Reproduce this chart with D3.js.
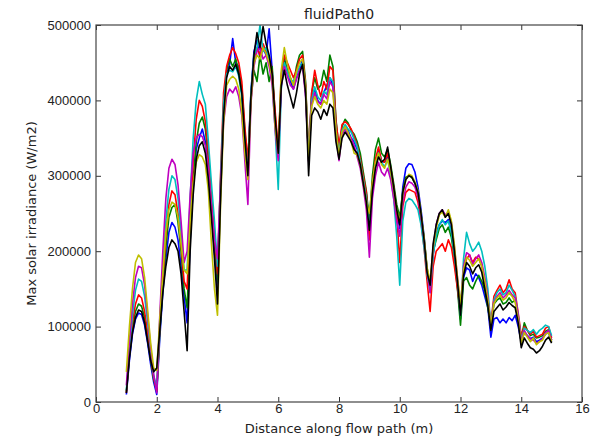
<!DOCTYPE html>
<html>
<head>
<meta charset="utf-8">
<script src="https://cdn.jsdelivr.net/npm/d3@7"></script>
<style>
  body { margin: 0; background: #fff; }
  svg { font-family: "DejaVu Sans", sans-serif; }
</style>
</head>
<body>
<svg width="598" height="439"></svg>
<script>
// x positions (m), 0.1 m step from 1 to 15
var xs = d3.range(141).map(function(i) { return +(1 + i / 10).toFixed(1); });

// series values in kW/m2, one row per metre
var blue = [
  10, 55, 90, 110, 118, 116, 102, 78, 50, 26,
  10, 85, 145, 190, 225, 238, 232, 215, 180, 140,
  105, 215, 285, 335, 350, 362, 345, 305, 255, 200,
  148, 275, 385, 435, 448, 482, 450, 445, 410, 355,
  315, 410, 465, 480, 455, 470, 460, 495, 440, 370,
  325, 425, 455, 440, 425, 415, 430, 440, 455, 410,
  325, 405, 415, 400, 395, 410, 420, 430, 420, 365,
  330, 355, 365, 360, 350, 345, 335, 315, 295, 275,
  235, 285, 315, 335, 320, 318, 325, 305, 280, 255,
  230, 285, 310, 316, 315, 305, 285, 255, 220, 175,
  150, 195, 225, 235, 240, 238, 242, 225, 195, 155,
  110, 165, 178, 175, 160, 170, 165, 155, 140, 125,
  86, 110, 112, 105, 110, 105, 112, 108, 115, 100,
  80, 92, 88, 84, 86, 80, 82, 85, 90, 92,
  80];
var green = [
  14, 62, 98, 120, 130, 127, 112, 86, 56, 30,
  14, 92, 152, 205, 245, 258, 262, 238, 200, 150,
  125, 225, 295, 345, 370, 378, 362, 322, 270, 222,
  160, 285, 390, 440, 455, 445, 455, 438, 418, 360,
  310, 400, 440, 425, 460, 435, 450, 425, 445, 380,
  330, 430, 455, 440, 430, 420, 445, 460, 465, 425,
  320, 410, 430, 415, 420, 440, 425, 460, 445, 375,
  335, 365, 375, 370, 360, 355, 345, 330, 305, 280,
  240, 300, 335, 350, 330, 325, 335, 315, 290, 262,
  245, 280, 298, 300, 298, 290, 278, 248, 218, 178,
  150, 200, 215, 230, 235, 225, 232, 218, 190, 150,
  102, 160, 165, 155, 150, 160, 168, 160, 148, 125,
  100, 130, 135, 138, 130, 132, 138, 132, 135, 112,
  85, 105, 95, 88, 90, 85, 86, 88, 94, 96,
  82];
var red = [
  12, 65, 105, 130, 142, 138, 120, 92, 60, 32,
  15, 100, 165, 220, 262, 280, 275, 250, 210, 160,
  150, 245, 320, 375, 400, 392, 372, 330, 275, 225,
  170, 300, 410, 445, 460, 470, 462, 450, 425, 365,
  320, 405, 455, 470, 460, 475, 465, 458, 435, 385,
  335, 435, 460, 450, 440, 430, 440, 455, 460, 420,
  330, 410, 440, 420, 405, 425, 415, 445, 440, 372,
  340, 368, 372, 368, 362, 352, 340, 322, 300, 278,
  215, 290, 322, 338, 320, 318, 330, 310, 285, 250,
  185, 260, 278, 282, 280, 278, 265, 240, 205, 160,
  120, 180, 200, 205, 210, 200, 215, 205, 180, 150,
  120, 175, 190, 195, 185, 192, 190, 180, 160, 135,
  105, 140, 148, 155, 145, 150, 162, 150, 145, 118,
  88, 100, 95, 90, 94, 86, 88, 90, 98, 100,
  85];
var cyan = [
  16, 70, 115, 148, 163, 160, 140, 105, 68, 35,
  20, 105, 178, 240, 282, 300, 295, 270, 225, 175,
  175, 270, 350, 400, 425, 408, 395, 345, 290, 240,
  180, 295, 395, 435, 440, 438, 445, 432, 405, 345,
  305, 410, 460, 470, 500, 465, 470, 455, 425, 360,
  282, 415, 450, 438, 428, 425, 435, 445, 450, 415,
  325, 400, 418, 405, 400, 412, 408, 430, 425, 360,
  330, 360, 368, 362, 358, 348, 338, 318, 295, 270,
  230, 285, 315, 330, 318, 312, 322, 300, 270, 220,
  155, 240, 265, 270, 268, 262, 255, 235, 205, 170,
  145, 195, 220, 235, 242, 235, 240, 225, 195, 160,
  115, 190, 225, 210, 200, 205, 212, 200, 180, 150,
  100, 135, 145, 150, 142, 145, 155, 148, 140, 115,
  82, 98, 95, 92, 96, 90, 95, 98, 102, 100,
  88];
var magenta = [
  22, 80, 130, 165, 180, 178, 155, 115, 72, 36,
  12, 115, 200, 270, 310, 322, 315, 288, 240, 185,
  200, 275, 330, 350, 355, 352, 340, 310, 260, 215,
  190, 290, 370, 405, 415, 410, 418, 405, 380, 320,
  262, 395, 445, 465, 470, 455, 460, 445, 420, 360,
  320, 418, 445, 432, 420, 415, 428, 440, 445, 405,
  318, 395, 410, 398, 395, 408, 402, 425, 418, 355,
  320, 355, 362, 355, 350, 340, 325, 310, 285, 255,
  192, 270, 300, 318, 305, 300, 310, 295, 270, 240,
  220, 265, 285, 292, 290, 285, 272, 245, 215, 175,
  145, 205, 235, 250, 255, 248, 252, 238, 205, 165,
  125, 180, 198, 195, 182, 190, 195, 185, 165, 140,
  98, 132, 140, 145, 138, 142, 148, 142, 138, 115,
  80, 95, 88, 84, 82, 78, 80, 84, 92, 95,
  82];
var yellow = [
  40, 100, 150, 185, 195, 190, 165, 122, 78, 45,
  42, 110, 170, 225, 255, 265, 262, 245, 210, 175,
  170, 240, 290, 318, 328, 325, 315, 280, 210, 150,
  115, 260, 370, 420, 428, 432, 428, 415, 385, 330,
  295, 400, 450, 460, 455, 470, 462, 450, 430, 365,
  330, 440, 470, 448, 430, 420, 438, 450, 455, 415,
  322, 392, 405, 395, 390, 400, 395, 415, 410, 360,
  325, 358, 365, 358, 345, 330, 328, 315, 290, 265,
  250, 290, 318, 330, 315, 310, 322, 305, 282, 255,
  240, 275, 295, 302, 300, 292, 280, 250, 218, 178,
  160, 205, 230, 248, 252, 245, 255, 240, 208, 165,
  130, 175, 192, 188, 180, 185, 190, 180, 160, 135,
  102, 130, 138, 142, 135, 138, 145, 140, 132, 110,
  78, 92, 86, 80, 85, 76, 80, 82, 90, 92,
  80];
var black = [
  12, 58, 92, 112, 122, 120, 105, 80, 55, 40,
  45, 95, 145, 180, 205, 215, 210, 200, 170, 120,
  68, 200, 275, 322, 340, 345, 330, 295, 245, 190,
  130, 270, 380, 430, 445, 440, 448, 435, 410, 350,
  300, 405, 460, 490, 470, 498, 475, 460, 435, 375,
  330, 420, 440, 420, 405, 390, 410, 435, 448, 410,
  300, 380, 390, 385, 375, 388, 380, 395, 390, 345,
  322, 350, 358, 352, 345, 335, 330, 315, 290, 265,
  228, 280, 310, 325, 318, 322, 338, 312, 285, 255,
  235, 278, 295, 300, 298, 290, 278, 250, 215, 172,
  155, 210, 235, 250, 255, 245, 250, 235, 200, 160,
  115, 168, 185, 180, 170, 178, 182, 172, 150, 128,
  95, 120, 125, 130, 122, 126, 132, 128, 125, 105,
  72, 85, 78, 72, 70, 65, 68, 74, 82, 86,
  78];

var seriesList = [blue, green, red, cyan, magenta, yellow, black];
var colours = ["#0000ff", "#008000", "#ff0000", "#00bfbf", "#bf00bf", "#bfbf00", "#000000"];
var xTicks = [0, 2, 4, 6, 8, 10, 12, 14, 16];
var yTicks = [0, 100000, 200000, 300000, 400000, 500000];

var svg = d3.select("svg");
var padLeft = 96, padTop = 25, plotW = 486, plotH = 377;

var x = d3.scaleLinear().domain([0, 16]).range([padLeft, padLeft + plotW]);
var y = d3.scaleLinear().domain([0, 500000]).range([padTop + plotH, padTop]);

// clip lines to the axes box
svg.append("clipPath").attr("id", "clip")
  .append("rect").attr("x", padLeft).attr("y", padTop).attr("width", plotW).attr("height", plotH);

var line = d3.line()
  .x(function(d, i) { return x(xs[i]); })
  .y(function(d) { return y(d * 1000); });

svg.append("g").attr("clip-path", "url(#clip)")
  .selectAll("path")
  .data(seriesList)
  .enter()
  .append("path")
    .attr("d", line)
    .attr("fill", "none")
    .attr("stroke", function(d, i) { return colours[i]; })
    .attr("stroke-width", 1.6)
    .attr("stroke-linejoin", "round");

// axes, ticks pointing inwards on all four sides
function styleAxis(g) {
  g.select(".domain").remove();
  g.selectAll(".tick line").attr("stroke", "#333");
  g.selectAll(".tick text").attr("fill", "#222").style("font-size", "13px");
}
svg.append("g").attr("transform", "translate(0," + (padTop + plotH) + ")")
  .call(d3.axisBottom(x).tickValues(xTicks).tickSizeInner(-5).tickPadding(2).tickFormat(d3.format("d")))
  .call(styleAxis);
svg.append("g").attr("transform", "translate(0," + padTop + ")")
  .call(d3.axisTop(x).tickValues(xTicks).tickSizeInner(-5).tickFormat(""))
  .call(styleAxis);
svg.append("g").attr("transform", "translate(" + padLeft + ",0)")
  .call(d3.axisLeft(y).tickValues(yTicks).tickSizeInner(-5).tickPadding(5).tickFormat(d3.format("d")))
  .call(styleAxis);
svg.append("g").attr("transform", "translate(" + (padLeft + plotW) + ",0)")
  .call(d3.axisRight(y).tickValues(yTicks).tickSizeInner(-5).tickFormat(""))
  .call(styleAxis);

svg.append("rect")
  .attr("x", padLeft).attr("y", padTop).attr("width", plotW).attr("height", plotH)
  .attr("fill", "none").attr("stroke", "#444").attr("stroke-width", 1.2);

// labels
svg.append("text").attr("x", padLeft + plotW / 2).attr("y", 19)
  .attr("text-anchor", "middle").style("font-size", "14px").attr("fill", "#222")
  .text("fluidPath0");
svg.append("text").attr("x", padLeft + plotW / 2).attr("y", 433)
  .attr("text-anchor", "middle").style("font-size", "13px").attr("fill", "#222")
  .text("Distance along flow path (m)");
svg.append("text")
  .attr("transform", "translate(36," + (padTop + plotH / 2) + ") rotate(-90)")
  .attr("text-anchor", "middle").style("font-size", "13px").attr("fill", "#222")
  .text("Max solar irradiance (W/m2)");
</script>
</body>
</html>
